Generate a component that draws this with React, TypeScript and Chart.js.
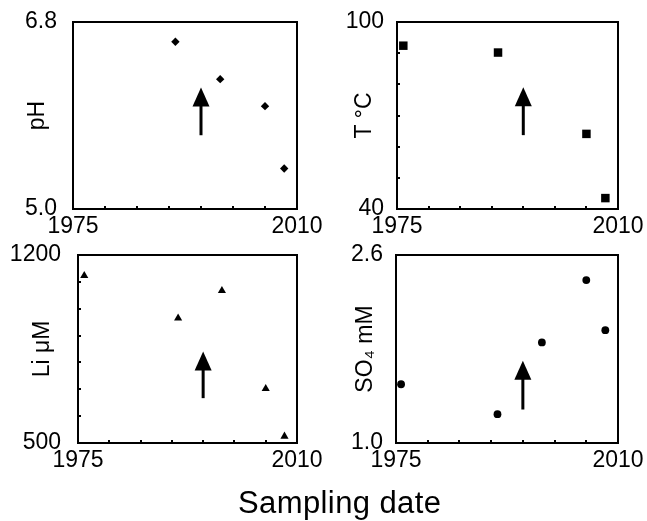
import React, { useEffect, useRef } from 'react';
import { Chart, registerables } from 'chart.js';
Chart.register(...registerables);

// ---- data ----
const xMin = 1975;
const xMax = 2010;
const xStep = 5;
const arrowYear = 1995;

const phYears = [1991, 1998, 2005, 2008];
const phValues = [6.61, 6.25, 5.99, 5.39];
const phRange = [5.0, 6.8];
const phArrow = [5.71, 6.17];

const tYears = [1976, 1991, 2005, 2008];
const tValues = [92.4, 90.2, 64.1, 43.5];
const tRange = [40, 100];
const tArrow = [63.7, 79.1];

const liYears = [1976, 1991, 1998, 2005, 2008];
const liValues = [1123, 965, 1067, 702, 525];
const liRange = [500, 1200];
const liArrow = [667, 841];

const so4Years = [1975.8, 1991, 1998, 2005, 2008];
const so4Values = [1.5, 1.245, 1.856, 2.387, 1.96];
const so4Range = [1.0, 2.6];
const so4Arrow = [1.285, 1.7];

const FONT = "'Liberation Sans', Arial, Helvetica, sans-serif";
const FS = 23;
const W = 647;
const H = 521;

type Panel = {
  years: number[];
  values: number[];
  range: number[];
  step: number;
  minor: boolean;
  decimals: number;
  arrow: number[];
  title: string;
  pointStyle: string;
  radius: number;
  area: { l: number; r: number; t: number; b: number };
  padLeft: number;
  titleX: number;
  tickPad: number;
};

const panels: Panel[] = [
  { years: phYears, values: phValues, range: phRange, step: 1.8, minor: false, decimals: 1, arrow: phArrow, title: 'pH', pointStyle: 'rectRot', radius: 4.2, area: { l: 73, r: 297, t: 22, b: 209 }, padLeft: 0, titleX: 38, tickPad: 16 },
  { years: tYears, values: tValues, range: tRange, step: 10, minor: true, decimals: 0, arrow: tArrow, title: 'T °C', pointStyle: 'rect', radius: 6, area: { l: 397, r: 618, t: 22, b: 209 }, padLeft: 323, titleX: 365, tickPad: 13 },
  { years: liYears, values: liValues, range: liRange, step: 100, minor: true, decimals: 0, arrow: liArrow, title: 'Li μM', pointStyle: 'triangle', radius: 4.7, area: { l: 78, r: 297, t: 255, b: 443 }, padLeft: 0, titleX: 43, tickPad: 17 },
  { years: so4Years, values: so4Values, range: so4Range, step: 1.6, minor: false, decimals: 1, arrow: so4Arrow, title: 'SO₄ mM', pointStyle: 'circle', radius: 3.9, area: { l: 396, r: 618, t: 255, b: 443 }, padLeft: 323, titleX: 366, tickPad: 13 },
];

const framePlugin = {
  id: 'frame',
  afterDraw(chart: any, _args: any, opts: any) {
    const { ctx, chartArea: a } = chart;
    const xs = chart.scales.x;
    const ys = chart.scales.y;
    ctx.save();
    ctx.strokeStyle = '#000';
    ctx.fillStyle = '#000';
    ctx.lineWidth = 2;
    ctx.strokeRect(a.left, a.top, a.right - a.left, a.bottom - a.top);
    // inward minor ticks
    ctx.lineWidth = 2;
    ctx.beginPath();
    xs.ticks.forEach((t: any) => {
      if (t.value > xs.min + 1e-6 && t.value < xs.max - 1e-6) {
        const px = Math.round(xs.getPixelForValue(t.value));
        ctx.moveTo(px, a.bottom);
        ctx.lineTo(px, a.bottom - 3);
      }
    });
    if (opts.minor) {
      ys.ticks.forEach((t: any) => {
        if (t.value > ys.min + 1e-6 && t.value < ys.max - 1e-6) {
          const py = Math.round(ys.getPixelForValue(t.value));
          ctx.moveTo(a.left, py);
          ctx.lineTo(a.left + 3, py);
        }
      });
    }
    ctx.stroke();
    // arrow
    const px = xs.getPixelForValue(opts.arrowX);
    const y0 = ys.getPixelForValue(opts.arrow[0]);
    const y1 = ys.getPixelForValue(opts.arrow[1]);
    const headLen = 19;
    const headW = 17;
    ctx.lineWidth = 3;
    ctx.beginPath();
    ctx.moveTo(px, y0);
    ctx.lineTo(px, y1 + headLen - 1);
    ctx.stroke();
    ctx.beginPath();
    ctx.moveTo(px, y1);
    ctx.lineTo(px - headW / 2, y1 + headLen);
    ctx.lineTo(px + headW / 2, y1 + headLen);
    ctx.closePath();
    ctx.fill();
    ctx.restore();
  },
};

function PanelChart({ p }: { p: Panel }) {
  const ref = useRef<HTMLCanvasElement>(null);
  useEffect(() => {
    if (!ref.current) return;
    const xH = 30;
    const yW = p.area.l - p.padLeft;
    const lh = FS * 1.2;
    const near = (a: number, b: number) => Math.abs(a - b) < 1e-6;
    const chart = new Chart(ref.current, {
      type: 'scatter',
      data: {
        datasets: [
          {
            data: p.years.map((yr, i) => ({ x: yr, y: p.values[i] })),
            pointStyle: p.pointStyle as any,
            pointRadius: p.radius,
            pointBorderWidth: 0,
            backgroundColor: '#000',
            borderColor: '#000',
            clip: false as any,
          },
        ],
      },
      options: {
        responsive: false,
        animation: false,
        events: [],
        layout: {
          padding: {
            left: p.padLeft,
            top: p.area.t,
            right: W - p.area.r,
            bottom: H - p.area.b - xH,
          },
        },
        plugins: {
          legend: { display: false },
          tooltip: { enabled: false },
          frame: { minor: p.minor, arrow: p.arrow, arrowX: arrowYear },
        } as any,
        scales: {
          x: {
            type: 'linear',
            position: 'bottom',
            min: xMin,
            max: xMax,
            grid: { display: false, drawTicks: false },
            border: { display: false },
            ticks: {
              stepSize: xStep,
              autoSkip: false,
              maxRotation: 0,
              padding: 4,
              color: '#000',
              font: { family: FONT, size: FS },
              callback: (v: any) => (near(v, xMin) || near(v, xMax) ? String(v) : ''),
            },
            afterFit: (s: any) => {
              s.height = xH;
              s.paddingLeft = 0;
              s.paddingRight = 0;
            },
          },
          y: {
            type: 'linear',
            position: 'left',
            min: p.range[0],
            max: p.range[1],
            grid: { display: false, drawTicks: false },
            border: { display: false },
            ticks: {
              stepSize: p.step,
              autoSkip: false,
              padding: p.tickPad,
              color: '#000',
              font: { family: FONT, size: FS },
              callback: (v: any) =>
                near(v, p.range[0]) || near(v, p.range[1]) ? Number(v).toFixed(p.decimals) : '',
            },
            title: {
              display: true,
              text: p.title,
              color: '#000',
              font: { family: FONT, size: FS },
              padding: { top: p.titleX - p.padLeft - lh / 2, bottom: 0 },
            },
            afterFit: (s: any) => {
              s.width = yW;
              s.paddingTop = 0;
              s.paddingBottom = 0;
            },
          },
        },
      },
      plugins: [framePlugin as any],
    });
    return () => chart.destroy();
  }, [p]);
  return (
    <canvas
      ref={ref}
      width={W}
      height={H}
      style={{ position: 'absolute', left: 0, top: 0, width: W, height: H }}
    />
  );
}

export default function App() {
  return (
    <div style={{ position: 'absolute', left: 0, top: 0, width: W, height: H, background: '#fff', overflow: 'hidden' }}>
      {panels.map((p, i) => (
        <PanelChart key={i} p={p} />
      ))}
      <div
        style={{
          position: 'absolute',
          left: 238,
          top: 487,
          whiteSpace: 'nowrap',
          fontFamily: FONT,
          fontSize: 31,
          letterSpacing: '0.4px',
          lineHeight: '31px',
          color: '#000',
        }}
      >
        Sampling date
      </div>
    </div>
  );
}
